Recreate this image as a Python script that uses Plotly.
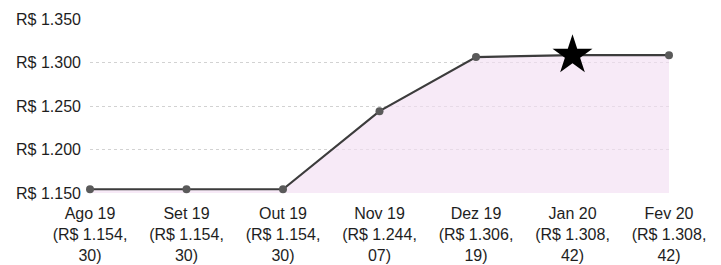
import plotly.graph_objects as go

months = ["Ago 19", "Set 19", "Out 19", "Nov 19", "Dez 19", "Jan 20", "Fev 20"]
values = [1154.30, 1154.30, 1154.30, 1244.07, 1306.19, 1308.42, 1308.42]
highlight_index = 5
y_ticks = [1150, 1200, 1250, 1300, 1350]
y_tick_text = ["R$ 1.150", "R$ 1.200", "R$ 1.250", "R$ 1.300", "R$ 1.350"]


def brl_label(v):
    reais = int(v)
    cents = round((v - reais) * 100)
    r = f"{reais:,}".replace(",", ".")
    return f"(R$ {r},<br>{cents:02d})"


tick_text = [f"{m}<br>{brl_label(v)}" for m, v in zip(months, values)]
x = list(range(len(months)))

fig = go.Figure()
fig.add_trace(go.Scatter(
    x=x, y=values, mode="lines+markers",
    line=dict(color="#3c3c3c", width=2.2),
    marker=dict(symbol="circle", size=8, color="#5a5a5a"),
    fill="tozeroy", fillcolor="rgba(242,222,242,0.65)",
    showlegend=False, cliponaxis=False,
))
fig.add_trace(go.Scatter(
    x=[x[highlight_index]], y=[values[highlight_index]], mode="markers",
    marker=dict(symbol="star", size=30, color="#000000", line=dict(width=0)),
    showlegend=False, cliponaxis=False,
))

# page body has an 8px default margin: shrink the figure to fit the window
fig.update_layout(
    width=713, height=257,
    margin=dict(l=82, r=52, t=11, b=72, autoexpand=False),
    paper_bgcolor="white", plot_bgcolor="white",
    font=dict(family="Liberation Sans, Arial, sans-serif", size=16, color="#1e1e1e"),
)
fig.update_xaxes(
    range=[0, 6], tickvals=x, ticktext=tick_text,
    showgrid=False, zeroline=False, showline=False, ticks="",
    ticklabelstandoff=9, automargin=False,
)
fig.update_yaxes(
    range=[1150, 1350], tickvals=y_ticks, ticktext=y_tick_text,
    showgrid=True, gridcolor="#d2d2d2", griddash="dot", gridwidth=1,
    zeroline=False, showline=False, ticks="", ticklabelstandoff=8,
    automargin=False,
)

fig.write_html("out.html")
